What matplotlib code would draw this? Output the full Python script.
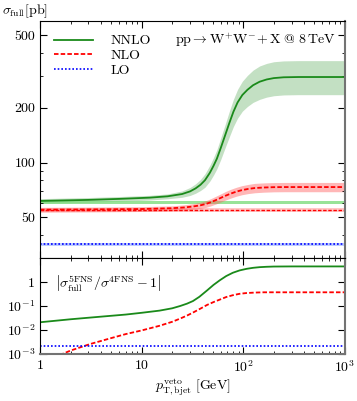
import matplotlib
matplotlib.use('Agg')
import matplotlib.pyplot as plt

plt.rcParams['font.family'] = 'serif'
plt.rcParams['font.serif'] = ['cmr10', 'DejaVu Serif']
plt.rcParams['mathtext.fontset'] = 'cm'
plt.rcParams['axes.unicode_minus'] = False
plt.rcParams['axes.formatter.use_mathtext'] = True

# upper panel: 5FNS NNLO
x_nnlo = [1, 3, 6, 12, 18, 25, 30, 34, 38, 42, 47, 51, 55, 60, 66, 73, 80, 88, 98, 110, 125, 145, 170, 200, 250, 350, 1000]
nnlo = [61.6, 62.4, 63.2, 64.2, 65.3, 67.2, 69.5, 72.2, 75.6, 80, 88, 96, 105, 120, 140, 165, 190, 214, 235, 251, 266, 278, 286, 291, 294, 295, 295]
nnlo_up = [63.4, 64.3, 65.1, 66.1, 67.3, 69.9, 73.0, 76.5, 80.9, 86.8, 96.8, 106.6, 117.6, 136.2, 160.3, 191.4, 222.3, 252.5, 279.7, 301.2, 321.9, 339.2, 350.4, 357.9, 361.6, 362.9, 362.9]
nnlo_lo = [59.8, 60.5, 61.3, 62.3, 63.3, 64.5, 66.0, 67.9, 70.3, 73.2, 79.2, 85.4, 92.4, 103.8, 119.7, 138.6, 157.7, 175.5, 191.5, 203.3, 214.1, 222.4, 228.8, 232.8, 235.2, 236, 236]

# upper panel: 5FNS NLO
x_nlo = [1, 3, 10, 20, 26, 32, 38, 43, 48, 54, 60, 67, 75, 85, 97, 112, 130, 160, 200, 260, 400, 1000]
nlo = [55.1, 55.3, 55.6, 56.2, 56.7, 57.4, 58.3, 59.3, 60.6, 62.3, 64.0, 65.8, 67.5, 69.2, 70.6, 71.7, 72.5, 73.0, 73.3, 73.4, 73.4, 73.4]
nlo_up = [56.8, 57.0, 57.3, 57.9, 58.6, 59.5, 60.6, 61.8, 63.4, 65.4, 67.3, 69.4, 71.3, 73.1, 74.7, 75.9, 76.9, 77.4, 77.7, 77.8, 77.8, 77.8]
nlo_lo = [53.4, 53.6, 53.9, 54.5, 54.9, 55.4, 56.0, 56.8, 57.9, 59.3, 60.7, 62.3, 63.8, 65.3, 66.6, 67.6, 68.3, 68.8, 69.1, 69.2, 69.2, 69.2]

# upper panel: flat 4FNS values and LO (central, up, down)
x_flat = [1, 1000]
nnlo4_up = [61.4, 61.4]
nnlo4_lo = [59.4, 59.4]
nlo4 = [55.0, 55.0]
nlo4_up = [56.6, 56.6]
nlo4_lo = [53.4, 53.4]
lo = [35.7, 35.7]
lo_up = [36.4, 36.4]
lo_lo = [35.0, 35.0]

# lower panel: |sigma5/sigma4 - 1|
x_rg = [1, 2, 4, 7, 10, 15, 20, 24, 28, 32, 37, 44, 51, 59, 68, 79, 92, 108, 125, 145, 170, 200, 300, 1000]
r_nnlo = [0.021, 0.028, 0.036, 0.044, 0.052, 0.064, 0.08, 0.10, 0.125, 0.16, 0.24, 0.44, 0.75, 1.18, 1.75, 2.4, 3.0, 3.5, 3.85, 4.1, 4.25, 4.35, 4.4, 4.4]
x_rr = [1, 1.65, 2, 3.1, 5, 7, 10, 15, 20, 24, 28, 32, 38, 44, 51, 59, 68, 79, 92, 108, 130, 160, 1000]
r_nlo = [6e-4, 1e-3, 1.4e-3, 2.6e-3, 4.6e-3, 6.8e-3, 9.6e-3, 0.015, 0.022, 0.030, 0.040, 0.053, 0.078, 0.11, 0.145, 0.185, 0.235, 0.28, 0.32, 0.345, 0.36, 0.37, 0.37]
r_lo = [2.2e-3, 2.2e-3]

fig = plt.figure(figsize=(3.57, 4.01), dpi=100)
ax1 = fig.add_axes([0.112, 0.357, 0.854, 0.591])
ax2 = fig.add_axes([0.112, 0.117, 0.854, 0.240], sharex=ax1)

green = '#1a8a1a'
dash = (0, (2.5, 1.2))
dot = (0, (1, 1.2))

ax1.fill_between(x_nnlo, nnlo_lo, nnlo_up, color='#3a9a3a', alpha=0.3, lw=0)
ax1.fill_between(x_flat, nnlo4_lo, nnlo4_up, color='#7fdc7f', alpha=0.8, lw=0)
ax1.fill_between(x_nlo, nlo_lo, nlo_up, color='#ff6060', alpha=0.45, lw=0)
ax1.fill_between(x_flat, nlo4_lo, nlo4_up, color='#ff6060', alpha=0.35, lw=0)
ax1.fill_between(x_flat, lo_lo, lo_up, color='#7090ff', alpha=0.45, lw=0)

l1, = ax1.plot(x_nnlo, nnlo, color=green, lw=1.3)
l2, = ax1.plot(x_nlo, nlo, color='red', lw=1.3, ls=dash)
ax1.plot(x_flat, nlo4, color='red', lw=1.0, ls=dash)
l3, = ax1.plot(x_flat, lo, color='blue', lw=1.2, ls=dot)

ax1.legend([l1, l2, l3], ['NNLO', 'NLO', 'LO'], loc='upper left',
           bbox_to_anchor=(0.0, 1.0), frameon=False, fontsize=10,
           handlelength=2.8, handletextpad=1.3, labelspacing=0.15,
           borderaxespad=0.6)
ax1.text(0.97, 0.955, r'$\mathrm{pp}\rightarrow\mathrm{W}^{+}\mathrm{W}^{-}\!+\mathrm{X}\ @\ 8\,\mathrm{TeV}$',
         transform=ax1.transAxes, ha='right', va='top', fontsize=10)

ax1.set_xscale('log')
ax1.set_yscale('log')
ax1.set_xlim(1, 1000)
ax1.set_ylim(30, 600)
ax1.set_yticks([50, 100, 200, 500])
ax1.set_yticklabels(['50', '100', '200', '500'])
ax1.tick_params(labelbottom=False)
fig.text(0.005, 0.993, r'$\sigma_{\mathrm{full}}[\mathrm{pb}]$', fontsize=10, ha='left', va='top')

ax2.plot(x_rg, r_nnlo, color=green, lw=1.3)
ax2.plot(x_rr, r_nlo, color='red', lw=1.3, ls=dash)
ax2.plot(x_flat, r_lo, color='blue', lw=1.2, ls=dot)
ax2.set_yscale('log')
ax2.set_ylim(1e-3, 10)
ax2.set_yticks([1e-3, 1e-2, 1e-1, 1])
ax2.set_yticklabels([r'$10^{-3}$', r'$10^{-2}$', r'$10^{-1}$', r'$1$'])
ax2.set_xticks([1, 10, 100, 1000])
ax2.set_xticklabels([r'$1$', r'$10$', r'$10^{2}$', r'$10^{3}$'])
ax2.text(0.05, 0.74, r'$\left|\sigma^{\mathrm{5FNS}}_{\mathrm{full}}/\sigma^{\mathrm{4FNS}}-1\right|$',
         transform=ax2.transAxes, ha='left', va='center', fontsize=10)
ax2.set_xlabel(r'$p_{\mathrm{T,bjet}}^{\mathrm{veto}}\ [\mathrm{GeV}]$', fontsize=10, labelpad=2)

for ax in (ax1, ax2):
    ax.tick_params(which='both', direction='in', top=True, right=True, labelsize=10)
    ax.tick_params(which='major', length=5)
    ax.tick_params(which='minor', length=2.5)
    ax.spines['right'].set_color('0.45')
    ax.spines['right'].set_linewidth(1.5)
ax2.spines['bottom'].set_color('0.45')
ax2.spines['bottom'].set_linewidth(1.5)

fig.savefig('out.png', dpi=100)
